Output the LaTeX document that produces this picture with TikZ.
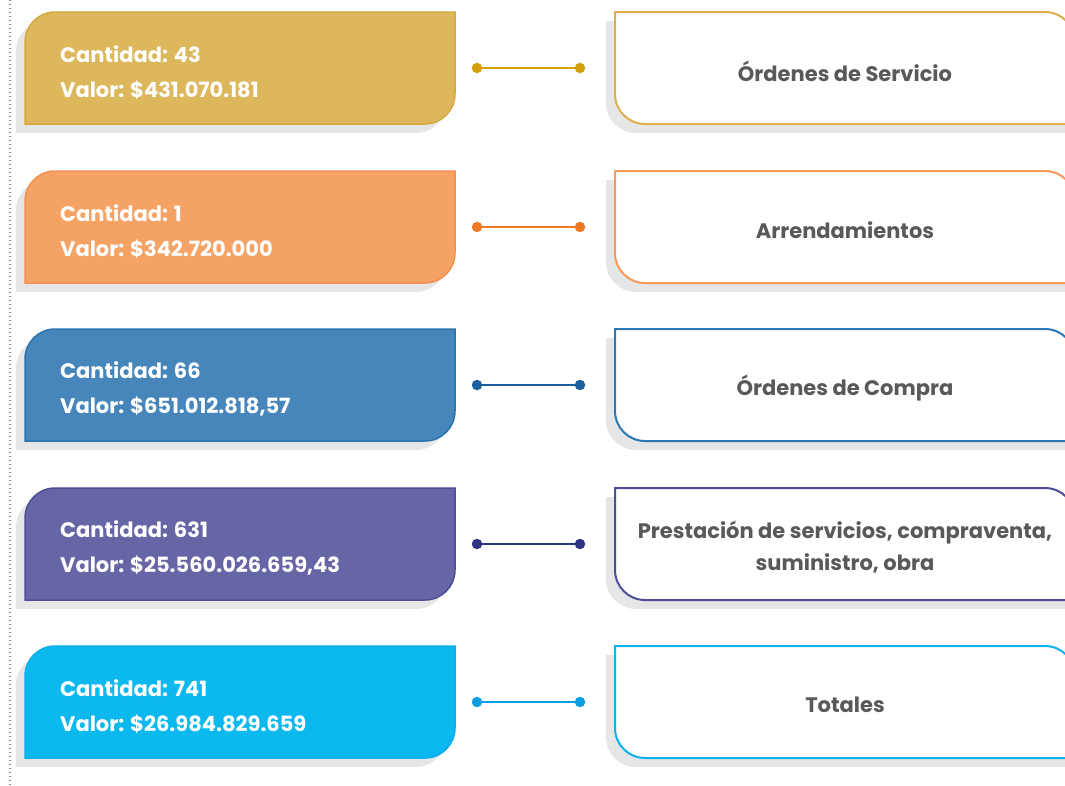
\documentclass[tikz,border=0pt]{standalone}
\usepackage{fontspec}
\setmainfont{Poppins}
\definecolor{goldF}{HTML}{DCB75C}
\definecolor{goldB}{HTML}{D6AA3E}
\definecolor{goldC}{HTML}{D4A00A}
\definecolor{goldR}{HTML}{DCB04B}
\definecolor{oranF}{HTML}{F5A265}
\definecolor{oranB}{HTML}{F39151}
\definecolor{oranC}{HTML}{EF7A26}
\definecolor{oranR}{HTML}{F59A5A}
\definecolor{blueF}{HTML}{4686BA}
\definecolor{blueB}{HTML}{2A73AD}
\definecolor{blueC}{HTML}{1A5F9E}
\definecolor{blueR}{HTML}{2A79B3}
\definecolor{purpF}{HTML}{6665A5}
\definecolor{purpB}{HTML}{4F4D96}
\definecolor{purpC}{HTML}{2D3483}
\definecolor{purpR}{HTML}{4F4D96}
\definecolor{cyanF}{HTML}{0CB9EF}
\definecolor{cyanB}{HTML}{0AAEE8}
\definecolor{cyanC}{HTML}{0B9FE0}
\definecolor{cyanR}{HTML}{0CB2EB}
\definecolor{shadowgray}{HTML}{E6E6E6}
\definecolor{txtgray}{HTML}{595959}
\definecolor{dotgray}{HTML}{8A8A8A}
\tikzset{
  lefttext/.style={anchor=west, align=left, text=white, inner sep=0pt,
    font=\bfseries\fontsize{21}{35}\selectfont},
  righttext/.style={align=center, text=txtgray, inner sep=0pt,
    font=\bfseries\fontsize{21}{32}\selectfont},
  dotend/.style={circle, inner sep=0pt, minimum size=10.5pt},
  shadowfill/.style={fill=shadowgray, draw=none},
  conn/.style={line width=2.5pt},
}
% #1 index, #2 top, #3 fill, #4 border, #5 connector, #6 right border,
% #7 quantity, #8 value, #9 right text
\newcommand\rowitem[9]{%
  \fill[shadowfill] (16,#2+121) -- (16,#2+39) arc(180:270:30) -- (446,#2+9)
    -- (446,#2+91) arc(0:90:30) -- cycle;
  \draw[fill=#3, draw=#4, line width=1.5pt] (25,#2+112) -- (25,#2+30) arc(180:270:30)
    -- (455,#2) -- (455,#2+82) arc(0:90:30) -- cycle;
  \fill[shadowfill] (606,#2+9) -- (1036,#2+9) arc(270:360:30) -- (1066,#2+121)
    -- (636,#2+121) arc(90:180:30) -- cycle;
  \draw[fill=white, draw=#6, line width=2pt] (615,#2) -- (1045,#2) arc(270:360:30)
    -- (1075,#2+112) -- (645,#2+112) arc(90:180:30) -- cycle;
  \node[lefttext] (L#1) at (60,#2+60) {Cantidad: #7\\Valor: #8};
  \node[righttext] (R#1) at (845,#2+59) {#9};
  \node[dotend, fill=#5] (A#1) at (477,#2+56) {};
  \node[dotend, fill=#5] (B#1) at (580,#2+56) {};
  \draw[conn, #5] (A#1) -- (B#1);
}
\begin{document}
\begin{tikzpicture}[x=1pt,y=-1pt]
\useasboundingbox (0,0) rectangle (1065,785);
\coordinate (dtop) at (10,0);
\coordinate (dbot) at (10,785);
\draw[dotgray, line width=1.2pt, dash pattern=on 1.2pt off 2.8pt] (dtop) -- (dbot);
\begin{scope}
\clip (0,0) rectangle (1065,785);
\rowitem{1}{12}{goldF}{goldB}{goldC}{goldR}{43}{\$431.070.181}{Órdenes de Servicio}
\rowitem{2}{171}{oranF}{oranB}{oranC}{oranR}{1}{\$342.720.000}{Arrendamientos}
\rowitem{3}{329}{blueF}{blueB}{blueC}{blueR}{66}{\$651.012.818,57}{Órdenes de Compra}
\rowitem{4}{488}{purpF}{purpB}{purpC}{purpR}{631}{\$25.560.026.659,43}{Prestación de servicios, compraventa,\\suministro, obra}
\rowitem{5}{646}{cyanF}{cyanB}{cyanC}{cyanR}{741}{\$26.984.829.659}{Totales}
\end{scope}
\end{tikzpicture}
\end{document}
